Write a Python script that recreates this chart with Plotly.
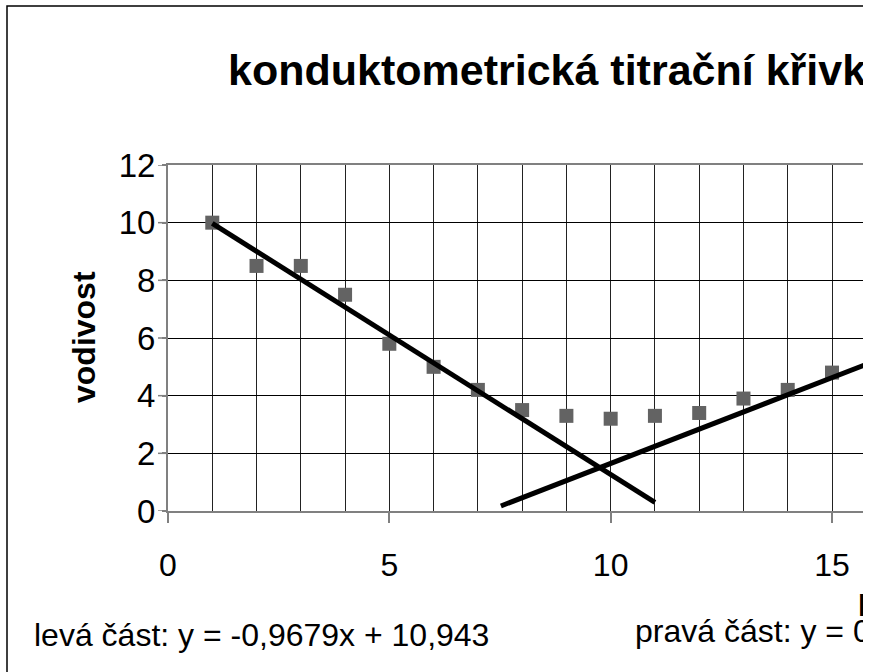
import plotly.graph_objects as go

# ---- data ----
objem = [1, 2, 3, 4, 5, 6, 7, 8, 9, 10, 11, 12, 13, 14, 15]
vodivost = [10.0, 8.5, 8.5, 7.5, 5.8, 5.0, 4.2, 3.5, 3.3, 3.2, 3.3, 3.4, 3.9, 4.2, 4.8]

# trend lines (slope, intercept) and the x-span over which each is drawn
leva_coef = [-0.9679, 10.943]
leva_rozsah = [1, 11]
prava_coef = [0.595, -4.30]
prava_rozsah = [7.52, 17]

x_ticks = [0, 5, 10, 15]
y_ticks = [0, 2, 4, 6, 8, 10, 12]

title_text = "konduktometrická titrační křivka"
y_title = "vodivost"
x_title = "přidaný objem"
leva_text = "levá část: y = -0,9679x + 10,943"
prava_text = "pravá část: y = 0,595x - 4,30"

FONT = "Liberation Sans, Arial, sans-serif"

W, H = 863, 672
L, T, B = 168, 165, 161
PW, PH = W - L, H - T - B


def px(X):
    return (X - L) / PW


def py(Y):
    return (H - B - Y) / PH


def line_pts(coef, rng):
    return rng, [coef[0] * v + coef[1] for v in rng]


fig = go.Figure()
fig.add_trace(go.Scatter(
    x=objem, y=vodivost, mode="markers",
    marker=dict(symbol="square", size=14, color="#636363", line=dict(width=0)),
    showlegend=False, cliponaxis=True))
lx, ly = line_pts(leva_coef, leva_rozsah)
fig.add_trace(go.Scatter(x=lx, y=ly, mode="lines",
                         line=dict(color="black", width=5), showlegend=False))
rx, ry = line_pts(prava_coef, prava_rozsah)
fig.add_trace(go.Scatter(x=rx, y=ry, mode="lines",
                         line=dict(color="black", width=5), showlegend=False))

x_max = PW / ((832 - 168) / 15)

# y tick marks (10 px long, outside) drawn as shapes so labels can sit closer
tick_shapes = [dict(type="line", xref="paper", yref="y", x0=px(158), x1=px(168),
                    y0=v, y1=v, line=dict(color="#808080", width=1.5), layer="above")
               for v in y_ticks]

fig.update_layout(
    width=W, height=H,
    margin=dict(l=L, r=0, t=T, b=B, pad=0),
    paper_bgcolor="white", plot_bgcolor="white",
    font=dict(family=FONT, color="black"),
    xaxis=dict(range=[0, x_max], tickmode="array", tickvals=x_ticks,
               ticktext=[str(v) for v in x_ticks],
               showgrid=True, gridcolor="#222222", gridwidth=1,
               minor=dict(dtick=1, tick0=0, showgrid=True, gridcolor="#222222", gridwidth=1, ticks=""),
               ticks="outside", ticklen=10, tickcolor="#808080", tickwidth=1.5,
               showline=True, linecolor="#808080", linewidth=2, mirror=True,
               zeroline=False, tickfont=dict(size=32, family=FONT),
               ticklabelstandoff=15, fixedrange=True),
    yaxis=dict(range=[0, 12], tickmode="array", tickvals=y_ticks,
               ticktext=[str(v) for v in y_ticks],
               showgrid=True, gridcolor="black", gridwidth=1,
               ticks="outside", ticklen=4, tickcolor="#808080", tickwidth=1.5,
               showline=True, linecolor="#808080", linewidth=2,
               zeroline=False, tickfont=dict(size=33, family=FONT),
               fixedrange=True),
    shapes=[dict(type="rect", xref="paper", yref="paper",
                 x0=px(7), x1=px(W + 40), y0=py(H + 40), y1=py(6),
                 line=dict(color="black", width=1.5), fillcolor="rgba(0,0,0,0)", layer="above")]
           + tick_shapes,
    annotations=[
        dict(text="<b>" + title_text + "</b>", xref="paper", yref="paper",
             x=px(226), y=py(70), xanchor="left", yanchor="middle",
             showarrow=False, font=dict(size=43, family=FONT)),
        dict(text="<b>" + y_title + "</b>", xref="paper", yref="paper",
             x=px(84), y=py(337), xanchor="center", yanchor="middle", textangle=-90,
             showarrow=False, font=dict(size=32, family=FONT)),
        dict(text="<b>" + x_title + "</b>", xref="paper", yref="paper",
             x=px(856), y=py(599), xanchor="left", yanchor="middle",
             showarrow=False, font=dict(size=30, family=FONT)),
        dict(text=leva_text, xref="paper", yref="paper",
             x=px(32), y=py(635), xanchor="left", yanchor="middle",
             showarrow=False, font=dict(size=32, family=FONT)),
        dict(text=prava_text, xref="paper", yref="paper",
             x=px(633), y=py(631), xanchor="left", yanchor="middle",
             showarrow=False, font=dict(size=32, family=FONT)),
    ],
)

fig.write_html("out.html", config=dict(displayModeBar=False),
               post_script="document.body.style.margin='0';")
